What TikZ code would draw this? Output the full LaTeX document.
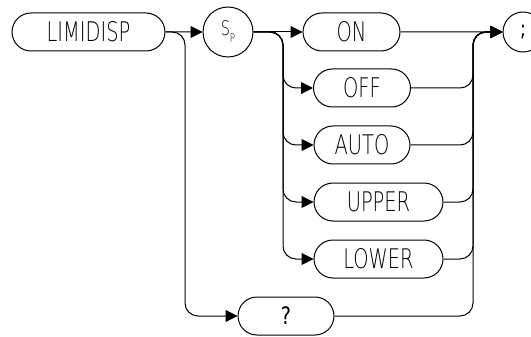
\documentclass[tikz,border=0pt]{standalone}
\usepackage{fontspec}
\newfontfamily\hpfont[FakeStretch=0.72, UprightFont={* ExtraLight}]{DejaVu Sans}
\newfontfamily\hpmark[FakeStretch=0.8]{DejaVu Sans}
\usetikzlibrary{arrows.meta, shapes.misc}

\begin{document}
\begin{tikzpicture}[
    x=1pt, y=-1pt,
    font=\hpfont\fontsize{27}{30}\selectfont,
    line width=1pt,
    arrow/.style={draw, -{Triangle[length=12pt,width=12pt]}},
    keyword/.style={
        rounded rectangle, draw,
        minimum height=38pt, inner sep=0pt
    },
    param/.style={circle, draw, inner sep=0pt}
]
    \useasboundingbox (0,0) rectangle (531,337);

    % Nodes
    \node[keyword, minimum width=153pt] (limidisp) at (88.5,32) {LIMIDISP};
    \node[param, minimum size=50pt] (sp) at (228,32)
        {\fontsize{20}{22}\selectfont S\raisebox{-7pt}{\fontsize{12}{13}\selectfont P}};
    \node[keyword, minimum width=97pt] (on) at (351.5,32) {ON};
    \node[keyword, minimum width=97pt] (off) at (362,88) {OFF};
    \node[keyword, minimum width=96pt] (auto) at (362,145) {AUTO};
    \node[keyword, minimum width=129pt] (upper) at (378.5,202) {UPPER};
    \node[keyword, minimum width=129pt] (lower) at (378.5,259) {LOWER};
    \node[keyword, minimum width=96pt] (query) at (286,316) {\hpmark\fontsize{24}{26}\selectfont ?};
    \node[param, minimum size=40pt] (semi) at (523,32) {\hpmark\fontsize{22}{24}\selectfont ;};

    % Branch points
    \coordinate (split) at (185,32);
    \coordinate (fork) at (283,32);
    \coordinate (join) at (473,32);

    % Arrows
    \path[arrow] (limidisp) -- (sp);
    \path[arrow, rounded corners=13pt] (limidisp.east) -- (split) |- (query.west);
    \path[arrow] (sp) -- (on);
    \foreach \opt in {off, auto, upper, lower}
        \path[arrow, rounded corners=13pt] (sp.east) -- (fork) |- (\opt.west);
    \path[arrow] (on) -- (semi);
    \foreach \opt in {off, auto, upper, lower, query}
        \path[arrow, rounded corners=13pt] (\opt.east) -| (join) -- (semi.west);

\end{tikzpicture}
\end{document}
